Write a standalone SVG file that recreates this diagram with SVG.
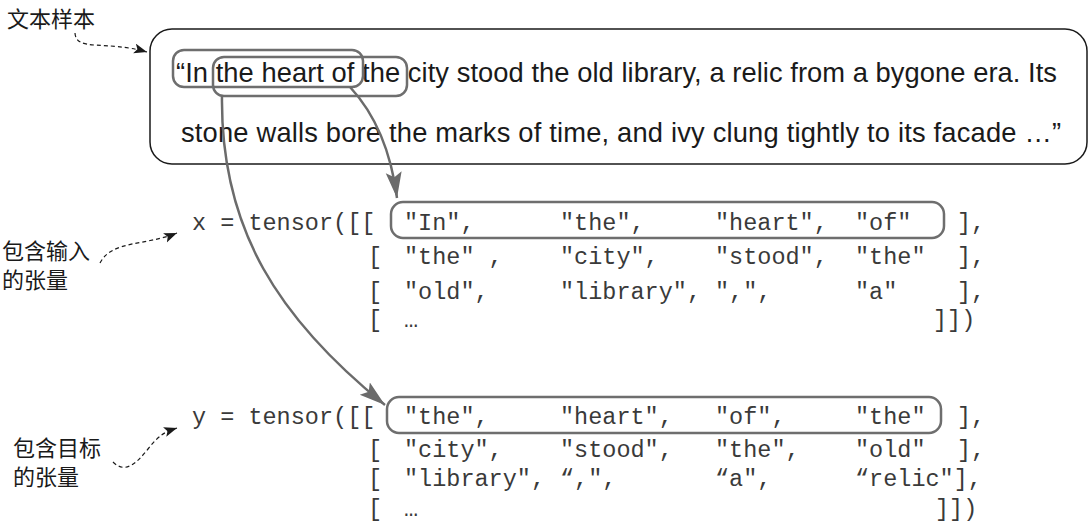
<svg xmlns="http://www.w3.org/2000/svg" width="1088" height="521" viewBox="0 0 1088 521">
<style>
.cjk{font-family:"Noto Sans CJK SC","Noto Sans",sans-serif;font-size:22px;fill:#1a1a1a}
.prose{font-family:"Liberation Sans",Arial,sans-serif;font-size:27.3px;fill:#1a1a1a}
.mono{font-family:"Liberation Mono","Courier New",monospace;font-size:23.5px;fill:#3a3a3a}
.hl{fill:none;stroke:#6e6e6e;stroke-width:2.5}
.frame{fill:none;stroke:#1a1a1a;stroke-width:1.5}
.big{fill:none;stroke:#6b6b6b;stroke-width:2.5}
.dash{fill:none;stroke:#1a1a1a;stroke-width:1.2;stroke-dasharray:4 3}
</style>
<defs>
<marker id="bigHead" markerUnits="userSpaceOnUse" markerWidth="28" markerHeight="18" refX="26" refY="8" orient="auto">
<path d="M0,0 L26,8 L0,16 L5,8 z" fill="#6b6b6b"/>
</marker>
<marker id="smallHead" markerUnits="userSpaceOnUse" markerWidth="14" markerHeight="12" refX="13" refY="5" orient="auto">
<path d="M0,0 L13,5 L0,10 L3,5 z" fill="#1a1a1a"/>
</marker>
</defs>
<rect width="1088" height="521" fill="#ffffff"/>

<g id="label-sample">
<text class="cjk" x="7" y="27">文本样本</text>
</g>
<g id="label-input">
<text class="cjk" x="2" y="259">包含输入</text>
<text class="cjk" x="2" y="288">的张量</text>
</g>
<g id="label-target">
<text class="cjk" x="13" y="456">包含目标</text>
<text class="cjk" x="13" y="485">的张量</text>
</g>

<g id="text-sample">
<rect class="frame" x="150" y="29" width="937" height="135" rx="22"/>
<text class="prose" x="176" y="82" textLength="881" lengthAdjust="spacing">“In the heart of the city stood the old library, a relic from a bygone era. Its</text>
<text class="prose" x="181" y="142" textLength="880" lengthAdjust="spacing">stone walls bore the marks of time, and ivy clung tightly to its facade …”</text>
<rect class="hl" x="173" y="50" width="190" height="37" rx="11"/>
<rect class="hl" x="213" y="57" width="194" height="39" rx="11"/>
</g>

<g id="tensor-x">
<text class="mono" x="192" y="230">x = tensor([[</text>
<rect class="hl" x="391" y="202" width="553" height="36" rx="12"/>
<text class="mono" x="404" y="230">"In",</text>
<text class="mono" x="560" y="230">"the",</text>
<text class="mono" x="715" y="230">"heart",</text>
<text class="mono" x="855" y="230">"of"</text>
<text class="mono" x="957" y="230">],</text>
<text class="mono" x="368" y="264">[</text>
<text class="mono" x="404" y="264">"the" ,</text>
<text class="mono" x="560" y="264">"city",</text>
<text class="mono" x="715" y="264">"stood",</text>
<text class="mono" x="855" y="264">"the"</text>
<text class="mono" x="957" y="264">],</text>
<text class="mono" x="368" y="299">[</text>
<text class="mono" x="404" y="299">"old",</text>
<text class="mono" x="560" y="299">"library",</text>
<text class="mono" x="715" y="299">",",</text>
<text class="mono" x="855" y="299">"a"</text>
<text class="mono" x="957" y="299">],</text>
<text class="mono" x="368" y="327">[</text>
<text class="mono" x="404" y="327">…</text>
<text class="mono" x="933" y="327">]])</text>
</g>

<g id="tensor-y">
<text class="mono" x="192" y="424">y = tensor([[</text>
<rect class="hl" x="387" y="397" width="554" height="36" rx="12"/>
<text class="mono" x="404" y="424">"the",</text>
<text class="mono" x="560" y="424">"heart",</text>
<text class="mono" x="715" y="424">"of",</text>
<text class="mono" x="855" y="424">"the"</text>
<text class="mono" x="957" y="424">],</text>
<text class="mono" x="368" y="457">[</text>
<text class="mono" x="404" y="457">"city",</text>
<text class="mono" x="560" y="457">"stood",</text>
<text class="mono" x="715" y="457">"the",</text>
<text class="mono" x="855" y="457">"old"</text>
<text class="mono" x="957" y="457">],</text>
<text class="mono" x="368" y="486">[</text>
<text class="mono" x="404" y="486">"library",</text>
<text class="mono" x="560" y="486">“,",</text>
<text class="mono" x="715" y="486">“a",</text>
<text class="mono" x="855" y="486">“relic"],</text>
<text class="mono" x="368" y="516">[</text>
<text class="mono" x="404" y="516">…</text>
<text class="mono" x="935" y="516">]])</text>
</g>

<g id="connectors">
<path class="big" d="M350,87 Q388,128 397,198" marker-end="url(#bigHead)"/>
<path class="big" d="M222,95 C220,230 280,320 385,405" marker-end="url(#bigHead)"/>
<path class="dash" d="M75,33 C76,52 105,40 147,52" marker-end="url(#smallHead)"/>
<path class="dash" d="M100,263 C112,240 145,246 177,233" marker-end="url(#smallHead)"/>
<path class="dash" d="M113,462 C125,474 136,464 148,449 S165,432 177,428" marker-end="url(#smallHead)"/>
</g>
</svg>
